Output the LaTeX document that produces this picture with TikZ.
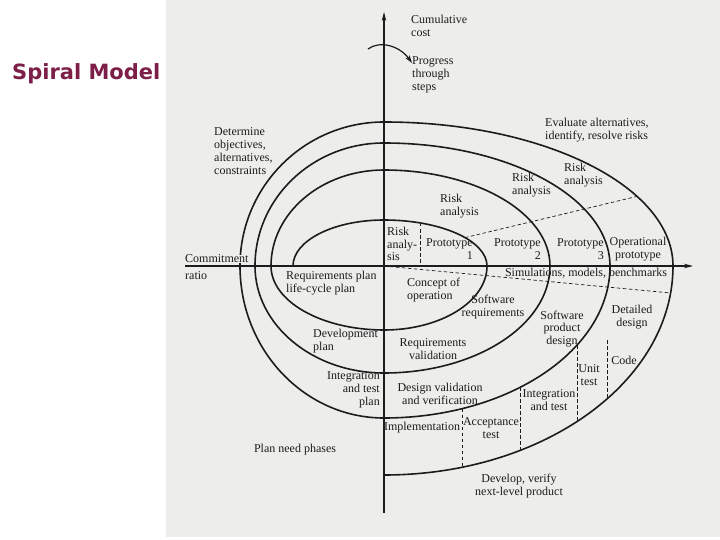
\documentclass[tikz,border=0pt]{standalone}
\usepackage{fontspec}
\setmainfont{Liberation Serif}
\newfontfamily\titlefont{DejaVu Sans}
\usetikzlibrary{arrows.meta}
\definecolor{ink}{RGB}{28,28,28}
\definecolor{scan}{RGB}{237,237,235}
\definecolor{maroon}{RGB}{125,30,72}

\begin{document}
\begin{tikzpicture}[x=1pt,y=-1pt,
    lbl/.style={font=\fontsize{12}{12.8}\selectfont,inner sep=0pt,text=ink},
    ring/.style={ink,line width=1.6pt},
    axis/.style={ink,line width=1.1pt,-{Stealth[length=9pt,width=4.5pt]}},
    divider/.style={ink,line width=0.7pt,dash pattern=on 3.5pt off 2.5pt}]
  \useasboundingbox (0,0) rectangle (720,540);
  \fill[scan] (166,0) rectangle (720,537);

  % axes
  \coordinate (xleft) at (185,266);
  \coordinate (xright) at (693,266);
  \coordinate (ybottom) at (384,513);
  \coordinate (ytop) at (384,12);
  \draw[axis] (xleft) -- (xright);
  \draw[axis] (ybottom) -- (ytop);

  % the spiral, one quarter at a time
  \draw[ring] (293,266) \foreach \s/\rx/\ry in {
      180/91/46, 270/103/46, 0/103/64, 90/113/64,
      180/113/96, 270/166/96, 0/166/107, 90/129/107,
      180/129/123, 270/226/123, 0/226/152, 90/144/152,
      180/144/144, 270/289/144, 0/289/209}{
      arc[start angle=\s,delta angle=90,x radius=\rx,y radius=\ry]};

  % dashed dividers
  \foreach \xa/\ya/\xb/\yb in {
      420/223/420/266, 465/237.6/637/196.4, 384/266/670.6/293,
      577/345.1/577/421.6, 607/340/607/398.9,
      520/387.4/520/450.4, 462/408.7/462/467.2}{
    \draw[divider] (\xa,\ya) -- (\xb,\yb);
  }

  % progress arrow
  \coordinate (progfrom) at (368,49);
  \coordinate (progto) at (412,63);
  \draw[ink,line width=1.2pt,-{Stealth[length=8pt,width=5pt]}] (progfrom)
    .. controls (380,40) and (400,46) .. (progto);

  \node[font=\titlefont\bfseries\fontsize{21}{24}\selectfont,text=maroon,
    anchor=base west,inner sep=0pt] (title) at (12,80) {Spiral Model};

  % quadrant and step labels
  \node[lbl,anchor=west,align=left] (cumcost) at (411,26) {Cumulative\\cost};
  \node[lbl,anchor=west,align=left] (progress) at (412,75) {Progress\\through\\steps};
  \node[lbl,anchor=west,align=left] (objectives) at (214,151)
    {Determine\\objectives,\\alternatives,\\constraints};
  \node[lbl,anchor=west,align=left] (evaluate) at (545,130)
    {Evaluate alternatives,\\identify, resolve risks};
  \node[lbl,anchor=west,align=left] (riskfour) at (564,175) {Risk\\analysis};
  \node[lbl,anchor=west,align=left] (riskthree) at (512,185) {Risk\\analysis};
  \node[lbl,anchor=west,align=left] (risktwo) at (440,206) {Risk\\analysis};
  \node[lbl,anchor=west,align=left] (riskone) at (387,244) {Risk\\analy-\\sis};
  \node[lbl,anchor=east,align=right] (protoone) at (473,249) {Prototype\\1};
  \node[lbl,anchor=east,align=right] (prototwo) at (541,249) {Prototype\\2};
  \node[lbl,anchor=east,align=right] (protothree) at (604,249) {Prototype\\3};
  \node[lbl,align=center] (opproto) at (638,249) {Operational\\prototype};
  \node[lbl] (simul) at (586,273) {Simulations, models, benchmarks};
  \node[lbl,anchor=west,align=left] (reqplan) at (286,283)
    {Requirements plan\\life-cycle plan};
  \node[lbl,anchor=west,align=left] (concept) at (407,290) {Concept of\\operation};
  \node[lbl,align=center] (swreq) at (493,307) {Software\\requirements};
  \node[lbl,align=center] (swprod) at (562,329) {Software\\product\\design};
  \node[lbl,align=center] (detdesign) at (632,317) {Detailed\\design};
  \node[lbl] (code) at (624,360) {Code};
  \node[lbl,align=center] (unittest) at (589,375) {Unit\\test};
  \node[lbl,align=center] (inttest) at (549,400) {Integration\\and test};
  \node[lbl,align=center] (acctest) at (491,428) {Acceptance\\test};
  \node[lbl] (impl) at (422,428) {Implementation};
  \node[lbl,align=center] (desval) at (440,394) {Design validation\\and verification};
  \node[lbl,align=center] (reqval) at (433,349) {Requirements\\validation};
  \node[lbl,anchor=west,align=left] (devplan) at (313,341) {Development\\plan};
  \node[lbl,anchor=east,align=right] (intplan) at (380,390) {Integration\\and test\\plan};
  \node[lbl] (planneed) at (295,450) {Plan need phases};
  \node[lbl,align=center] (develop) at (519,486) {Develop, verify\\next-level product};
  \node[lbl,anchor=west,fill=scan] (commit) at (185,259) {Commitment};
  \node[lbl,anchor=west] (ratio) at (185,276) {ratio};
\end{tikzpicture}
\end{document}
